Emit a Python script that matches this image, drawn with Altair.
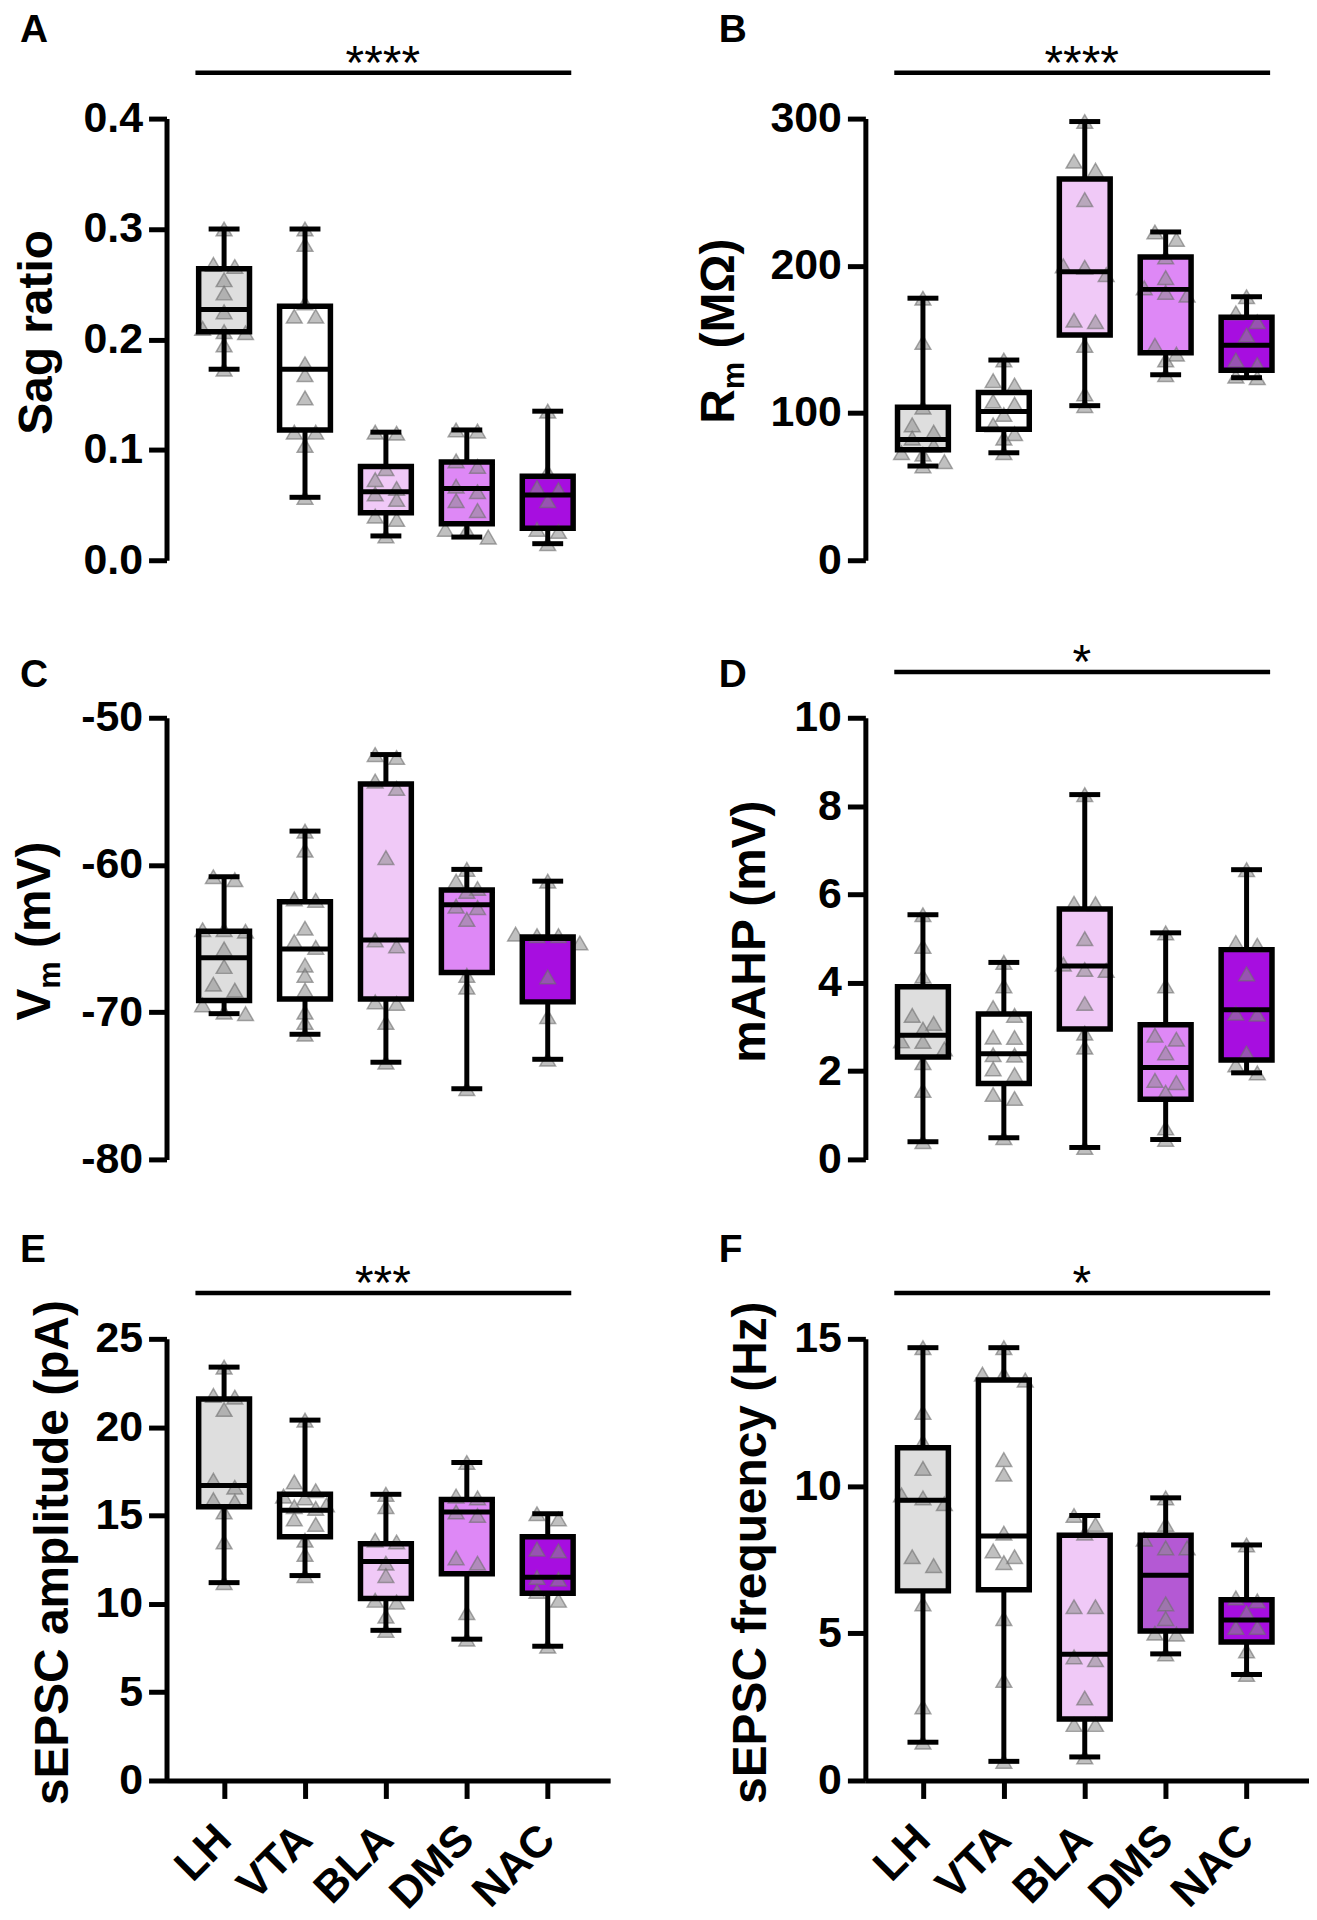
import altair as alt
import pandas as pd

groups = ["LH", "VTA", "BLA", "DMS", "NAC"]
fill_main = ["#dedede", "#ffffff", "#f0c9f7", "#de88f6", "#a70ee0"]
fill_F = ["#dedede", "#ffffff", "#f0c9f7", "#b459d4", "#a70ee0"]

# ---- A: Sag ratio ----
sag_LH = [0.300, 0.268, 0.266, 0.254, 0.242, 0.225, 0.210, 0.207, 0.206, 0.195, 0.173]
sag_VTA = [0.300, 0.286, 0.233, 0.221, 0.221, 0.178, 0.168, 0.147, 0.116, 0.116, 0.104, 0.057]
sag_BLA = [0.116, 0.115, 0.083, 0.073, 0.065, 0.060, 0.055, 0.040, 0.037, 0.022]
sag_DMS = [0.118, 0.117, 0.090, 0.085, 0.067, 0.062, 0.054, 0.045, 0.028, 0.027, 0.021]
sag_NAC = [0.135, 0.080, 0.066, 0.064, 0.054, 0.028, 0.026, 0.015]
sag_q1 = [0.207, 0.118, 0.043, 0.033, 0.029]
sag_med = [0.227, 0.173, 0.062, 0.065, 0.059]
sag_q3 = [0.264, 0.230, 0.085, 0.089, 0.076]

# ---- B: Rm ----
rm_LH = [178, 148, 104, 92, 87, 83, 78, 73, 72, 67, 64]
rm_VTA = [136, 122, 119, 108, 106, 99, 92, 86, 83, 73]
rm_BLA = [298, 271, 265, 245, 200, 199, 194, 163, 162, 146, 113, 105]
rm_DMS = [223, 218, 206, 192, 185, 182, 180, 146, 140, 136, 126]
rm_NAC = [179, 168, 162, 153, 136, 133, 125, 124]
rm_q1 = [75, 89, 153, 141, 129]
rm_med = [82, 101, 196, 184, 146]
rm_q3 = [104, 114, 259, 206, 165]

# ---- C: Vm ----
vm_LH = [-60.8, -61.0, -64.4, -64.4, -64.5, -65.7, -66.9, -68.1, -68.5, -69.5, -70.0, -70.1]
vm_VTA = [-57.7, -59.0, -62.3, -62.4, -64.3, -65.2, -65.6, -66.8, -67.5, -68.5, -70.0, -70.7, -71.5]
vm_BLA = [-52.5, -52.7, -54.3, -54.8, -59.5, -65.1, -65.5, -69.3, -69.4, -70.7, -73.4]
vm_DMS = [-60.3, -61.1, -61.6, -61.8, -62.8, -62.9, -63.7, -67.5, -68.3, -75.2]
vm_NAC = [-61.1, -64.7, -64.8, -64.8, -65.3, -67.6, -70.3, -73.2]
vm_q1 = [-69.2, -69.1, -69.1, -67.3, -69.3]
vm_med = [-66.3, -65.7, -65.1, -62.7, -65.0]
vm_q3 = [-64.5, -62.5, -54.5, -61.7, -64.9]

# ---- D: mAHP ----
ahp_LH = [5.54, 4.82, 4.15, 3.26, 3.08, 2.95, 2.68, 2.67, 2.50, 2.19, 1.56, 0.40]
ahp_VTA = [4.46, 3.93, 3.44, 3.26, 2.77, 2.76, 2.37, 2.36, 2.05, 1.92, 1.47, 1.38, 0.49]
ahp_BLA = [8.26, 5.80, 5.79, 5.00, 4.42, 4.30, 4.28, 3.53, 2.86, 2.54, 0.27]
ahp_DMS = [5.13, 3.93, 2.81, 2.72, 2.41, 1.79, 1.74, 1.52, 0.71, 0.45]
ahp_NAC = [6.56, 4.91, 4.85, 4.20, 3.31, 3.29, 2.41, 2.14, 1.96]
ahp_q1 = [2.32, 1.72, 2.95, 1.36, 2.25]
ahp_med = [2.81, 2.39, 4.38, 2.08, 3.39]
ahp_q3 = [3.91, 3.29, 5.67, 3.05, 4.75]

# ---- E: sEPSC amplitude ----
amp_LH = [23.4, 21.8, 21.7, 21.0, 17.0, 16.6, 15.9, 15.8, 15.2, 13.5, 11.2]
amp_VTA = [20.4, 16.9, 16.4, 16.1, 16.0, 15.6, 15.5, 15.4, 14.8, 14.5, 13.6, 12.8, 11.6]
amp_BLA = [16.2, 15.5, 13.6, 13.5, 12.3, 11.6, 10.2, 10.1, 9.3, 8.5]
amp_DMS = [18.0, 16.1, 16.0, 15.2, 15.0, 12.6, 12.3, 9.5, 8.0]
amp_NAC = [15.1, 14.8, 13.1, 13.0, 11.5, 11.4, 10.7, 10.2, 7.6]
amp_q1 = [15.5, 13.8, 10.3, 11.7, 10.6]
amp_med = [16.7, 15.3, 12.4, 15.2, 11.5]
amp_q3 = [21.6, 16.2, 13.4, 15.9, 13.8]

# ---- F: sEPSC frequency ----
frq_LH = [14.7, 12.5, 11.5, 10.6, 9.7, 9.6, 9.4, 7.6, 7.3, 6.0, 2.5, 1.3]
frq_VTA = [14.7, 13.8, 13.8, 13.6, 10.9, 10.4, 8.4, 7.8, 7.6, 7.4, 5.5, 3.4, 0.65]
frq_BLA = [9.0, 8.7, 8.4, 5.9, 5.9, 4.2, 4.1, 2.8, 1.9, 1.9, 0.8]
frq_DMS = [9.6, 8.7, 8.2, 7.9, 7.9, 6.0, 5.5, 5.0, 4.97, 4.3]
frq_NAC = [8.0, 6.2, 6.1, 5.7, 5.2, 5.2, 4.4, 3.6]
frq_q1 = [6.44, 6.48, 2.09, 5.08, 4.70]
frq_med = [9.52, 8.30, 4.29, 6.97, 5.45]
frq_q3 = [11.3, 13.6, 8.33, 8.33, 6.14]

W, H = 445, 443
XDOM = [-0.65, 4.71]
PXU = W / (XDOM[1] - XDOM[0])
FONT = "Liberation Sans"
TFS = 48          # axis title font size
SUB = 31          # subscript font size
# Arial-bold advance widths (em) for the hand-set titles
AW = {"R": .722, "m": .889, " ": .278, "(": .333, ")": .333, "M": .833,
      "\u03a9": .768, "V": .667}


def tw(s, fs):
    return sum(AW.get(c, .6) for c in s) * fs


def swarm(vals, thr, step):
    order = sorted(range(len(vals)), key=lambda i: -vals[i])
    rows = []
    for i in order:
        if rows and rows[-1][0] - vals[i] <= thr:
            rows[-1][1].append(i)
        else:
            rows.append((vals[i], [i]))
    off = [0.0] * len(vals)
    for _, idxs in rows:
        n = len(idxs)
        for k, i in enumerate(idxs):
            off[i] = (k - (n - 1) / 2) * step
    return off


def panel(vals, q1, med, q3, ydom, yticks, title, title_x, letter, letter_y,
          stars, fills, label_expr, show_x, top=0, anchor=False, sub_title=None):
    rng = ydom[1] - ydom[0]
    thr = 10 / H * rng
    step = 22 / PXU
    rows = []
    for gi, g in enumerate(groups):
        offs = swarm(vals[gi], thr, step)
        for v, o in zip(vals[gi], offs):
            rows.append({"g": g, "gi": gi, "x": gi + o, "v": v})
    pts = pd.DataFrame(rows)
    box = pd.DataFrame({
        "g": groups, "gi": list(range(5)), "q1": q1, "med": med, "q3": q3,
        "lo": [min(v) for v in vals], "hi": [max(v) for v in vals],
        "fill": fills,
    })
    xs = alt.Scale(domain=XDOM, nice=False, zero=False)
    ys = alt.Scale(domain=ydom, nice=False, zero=False, range=[H + top, top])
    if show_x:
        lab = "[" + ",".join("'%s'" % g for g in groups) + "][datum.value]"
        xaxis = alt.Axis(values=list(range(5)), labelExpr=lab, title=None,
                         labelAngle=315, labelFontSize=44, labelPadding=34,
                         labelAlign="right", labelBaseline="middle",
                         labelOverlap=False)
    else:
        xaxis = None
    if sub_title is None:
        yaxis = alt.Axis(values=yticks, labelExpr=label_expr, title=title,
                         titleX=title_x, titleY=top + 214, titleAngle=270,
                         titleBaseline="alphabetic", titleAlign="center",
                         labelOverlap=False)
    else:
        yaxis = alt.Axis(values=yticks, labelExpr=label_expr, title=None,
                         labelOverlap=False)

    def X(f):
        return alt.X(f, type="quantitative", scale=xs, axis=xaxis)

    def Y(f):
        return alt.Y(f, type="quantitative", scale=ys, axis=yaxis)

    BW = 51
    base_box = alt.Chart(box)
    fill_l = base_box.mark_bar(size=BW, strokeWidth=0, opacity=1).encode(
        x=X("gi"), y=Y("q1"), y2="q3", fill=alt.Fill("fill:N", scale=None))
    pts_l = alt.Chart(pts).mark_point(
        shape="triangle-up", filled=True, size=250, fill="#8c8c8c", opacity=1,
        fillOpacity=0.55, stroke="#6e6e6e", strokeOpacity=0.6, strokeWidth=1.5
    ).encode(x=X("x"), y=Y("v"))
    wl = base_box.mark_rule(color="black", strokeWidth=5, opacity=1).encode(
        x=X("gi"), y=Y("lo"), y2="q1")
    wh = base_box.mark_rule(color="black", strokeWidth=5, opacity=1).encode(
        x=X("gi"), y=Y("q3"), y2="hi")
    cl = base_box.mark_tick(orient="horizontal", size=31, thickness=5,
                            color="black", opacity=1).encode(x=X("gi"), y=Y("lo"))
    ch = base_box.mark_tick(orient="horizontal", size=31, thickness=5,
                            color="black", opacity=1).encode(x=X("gi"), y=Y("hi"))
    outline = base_box.mark_bar(size=BW, fillOpacity=0, stroke="black",
                                strokeWidth=5.5, opacity=1).encode(
        x=X("gi"), y=Y("q1"), y2="q3")
    medl = base_box.mark_tick(orient="horizontal", size=BW, thickness=5,
                              color="black", opacity=1).encode(x=X("gi"), y=Y("med"))
    one = pd.DataFrame({"t": [letter], "s": [stars]})
    let = alt.Chart(one).mark_text(
        align="left", baseline="top", font=FONT, fontSize=39,
        fontWeight="bold", color="black"
    ).encode(text="t:N", x=alt.value(-147), y=alt.value(top + letter_y))
    layers = [fill_l, pts_l, wl, wh, cl, ch, outline, medl, let]
    if stars:
        sl = alt.Chart(one).mark_rule(color="black", strokeWidth=4.5).encode(
            x=alt.value(29), x2=alt.value(406), y=alt.value(top - 46))
        st = alt.Chart(one).mark_text(
            align="center", baseline="alphabetic", font=FONT, fontSize=48,
            color="black").encode(text="s:N", x=alt.value(217),
                                  y=alt.value(top - 40))
        layers += [sl, st]
    if sub_title is not None:
        # title with a subscript: main letter, subscript, rest (reads bottom-up)
        main, sub, rest = sub_title
        total = tw(main, TFS) + tw(sub, SUB) + tw(" " + rest, TFS)
        y0 = top + 214 + total / 2
        parts = [(main, TFS, 0, y0),
                 (sub, SUB, 10, y0 - tw(main, TFS)),
                 (rest, TFS, 0, y0 - tw(main, TFS) - tw(sub, SUB) - tw(" ", TFS))]
        for txt, fs, dx, yy in parts:
            layers.append(alt.Chart(pd.DataFrame({"t": [txt]})).mark_text(
                align="left", baseline="alphabetic", angle=270, font=FONT,
                fontSize=fs, fontWeight="bold", color="black"
            ).encode(text="t:N", x=alt.value(title_x + dx), y=alt.value(yy)))
    if anchor:
        an = alt.Chart(one).mark_rule(strokeOpacity=0, color="white").encode(
            x=alt.value(-159), x2=alt.value(-158), y=alt.value(-107))
        layers.append(an)
    return alt.layer(*layers).properties(width=W, height=H + top)


lbl_int = "'' + datum.value"
pA = panel([sag_LH, sag_VTA, sag_BLA, sag_DMS, sag_NAC], sag_q1, sag_med, sag_q3,
           [0, 0.4], [0, 0.1, 0.2, 0.3, 0.4], "Sag ratio", -115, "A", -108, "****",
           fill_main, "format(datum.value, '.1f')", False, anchor=True)
pB = panel([rm_LH, rm_VTA, rm_BLA, rm_DMS, rm_NAC], rm_q1, rm_med, rm_q3,
           [0, 300], [0, 100, 200, 300], None, -132, "B", -108, "****",
           fill_main, lbl_int, False, sub_title=("R", "m", "(M\u03a9)"))
pC = panel([vm_LH, vm_VTA, vm_BLA, vm_DMS, vm_NAC], vm_q1, vm_med, vm_q3,
           [-80, -50], [-80, -70, -60, -50], None, -117, "C", -62, "",
           fill_main, lbl_int, False, sub_title=("V", "m", "(mV)"))
pD = panel([ahp_LH, ahp_VTA, ahp_BLA, ahp_DMS, ahp_NAC], ahp_q1, ahp_med, ahp_q3,
           [0, 10], [0, 2, 4, 6, 8, 10], "mAHP (mV)", -101, "D", -62, "*",
           fill_main, lbl_int, False)
pE = panel([amp_LH, amp_VTA, amp_BLA, amp_DMS, amp_NAC], amp_q1, amp_med, amp_q3,
           [0, 25], [0, 5, 10, 15, 20, 25], "sEPSC amplitude (pA)", -99, "E", -108,
           "***", fill_main, lbl_int, True, top=22)
pF = panel([frq_LH, frq_VTA, frq_BLA, frq_DMS, frq_NAC], frq_q1, frq_med, frq_q3,
           [0, 15], [0, 5, 10, 15], "sEPSC frequency (Hz)", -100, "F", -108, "*",
           fill_F, lbl_int, True, top=22)

chart = alt.concat(
    pA, pB, pC, pD, pE, pF, columns=2,
    spacing={"row": 158, "column": 256}, bounds="flush"
).properties(
    padding=0
).configure_axis(
    domainColor="black", domainWidth=5, tickColor="black", tickWidth=5,
    tickSize=18, labelFont=FONT, labelFontSize=43, labelFontWeight="bold",
    labelColor="black", labelPadding=6, titleFont=FONT, titleFontSize=TFS,
    titleFontWeight="bold", titleColor="black", grid=False
).configure_view(stroke=None)

chart.save("out.html", embed_options={"renderer": "svg", "actions": False})
